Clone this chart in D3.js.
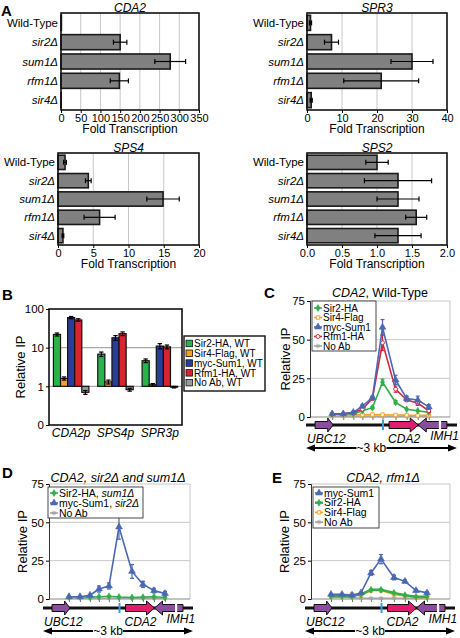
<!DOCTYPE html>
<html><head><meta charset="utf-8">
<script src="https://cdn.jsdelivr.net/npm/d3@7"></script>
<style>
body{margin:0;background:#fff;}
svg{display:block;}
</style></head><body>
<svg id="fig" width="460" height="638"></svg>
<script>
// ---------------- DATA ----------------
const strainsA = ["Wild-Type","sir2Δ","sum1Δ","rfm1Δ","sir4Δ"];
const cda2Fold = [1,150,277,148,0.5];
const cda2Err  = [0,17,39,23,0];
const cda2Ticks = [0,50,100,150,200,250,300,350];
const spr3Fold = [1,7,30,21.2,1.2];
const spr3Err  = [0.3,2,6,10.7,0.3];
const spr3Ticks = [0,10,20,30,40];
const sps4Fold = [1,4.3,14.9,5.9,0.7];
const sps4Err  = [0.2,0.4,2.3,2.2,0.12];
const sps4Ticks = [0,5,10,15,20];
const sps2Fold = [1.0,1.3,1.3,1.56,1.3];
const sps2Err  = [0.16,0.48,0.3,0.15,0.33];
const sps2Ticks = [0,0.5,1.0,1.5,2.0];

const promotersB = ["CDA2p","SPS4p","SPR3p"];
const seriesB = ["Sir2-HA, WT","Sir4-Flag, WT","myc-Sum1, WT","Rfm1-HA, WT","No Ab, WT"];
const sir2IP_B = [22,6.8,4.6];     const sir2Err_B = [2,0.9,0.5];
const sir4IP_B = [1.6,1.3,1.1];    const sir4Err_B = [0.15,0.15,0.08];
const sum1IP_B = [60,18,11];       const sum1Err_B = [4,2.5,1.7];
const rfm1IP_B = [52,23,10.5];     const rfm1Err_B = [4,2.5,1.2];
const noAbIP_B = [0.7,0.82,0.95];  const noAbErr_B = [0.08,0.07,0.04];
const ticksB = [0.1,1,10,100];
const tickLabelsB = ["0","1","10","100"];

// ChIP tiling (bp along ~3 kb locus)
const probePos = [520,740,940,1120,1320,1520,1780,2000,2220,2440];
const locusSpan = [0,3000];
const featNames  = ["UBC12","CDA2","IMH1"];
const featStart  = [180,1650,2230];
const featEnd    = [540,2230,2800];
const featStrand = [1,1,-1];
const sum1Site = 1530;
const imh1Break = 2660;
const ticksChip = [0,25,50,75];

// Panel C: wild type
const sir2C = [2,2,2,4,6,22.5,9.5,5,4,3];
const sir2CErr = [0.3,0.3,0.3,0.5,0.8,2,1,0.5,0.5,0.5];
const sir4C = [1.5,1.3,1.2,1.5,1.6,1.5,1.3,1.2,1.0,1.2];
const sir4CErr = [0.2,0.2,0.2,0.2,0.2,0.2,0.2,0.2,0.2,0.2];
const sum1C = [2,2,3,7,12.5,58,24,12,11,6.5];
const sum1CErr = [0.3,0.3,0.4,1,1,5,3,1.5,2.5,1.5];
const rfm1C = [2,2,3,5,12,48,18,11,9,4];
const rfm1CErr = [0.3,0.3,0.3,0.5,1,5,2,1,1.5,1];
const noAbC = [0.5,0.5,0.5,0.5,0.5,0.5,0.5,0.5,0.5,0.5];
const noAbCErr = [0.1,0.1,0.1,0.1,0.1,0.1,0.1,0.1,0.1,0.1];

// Panel D: sir2Δ and sum1Δ
const sir2D = [1.5,1.5,1.2,1.5,1.8,1.3,1.0,1.2,1.5,1.0];
const sir2DErr = [0.2,0.2,0.2,0.2,0.2,0.2,0.2,0.2,0.2,0.2];
const sum1D = [1.5,1.5,2.5,6.5,8.5,47,18,9.5,5.5,3.5];
const sum1DErr = [0.5,0.3,0.5,2,2,8,4.5,2,1.5,1.5];
const noAbD = [0.5,0.5,0.5,0.5,0.5,0.5,0.5,0.5,0.5,0.5];
const noAbDErr = [0.1,0.1,0.1,0.1,0.1,0.1,0.1,0.1,0.1,0.1];

// Panel E: rfm1Δ
const sum1E = [3,3,2.5,4,17,26,14,11.5,5.5,4];
const sum1EErr = [0.5,0.5,0.5,0.5,1.5,3,1.5,1,0.8,0.8];
const sir2E = [2,2,2,3,6,6,4,2.5,1.5,1.5];
const sir2EErr = [0.2,0.2,0.2,0.3,0.5,0.5,0.3,0.2,0.2,0.2];
const sir4E = [2,2,3,2.5,5.5,5.5,3,2,1,1];
const sir4EErr = [0.2,0.2,0.3,0.3,0.5,0.5,0.3,0.2,0.2,0.2];
const noAbE = [1,1,0.8,0.5,0.5,0.5,0.5,0.5,0.5,0.5];
const noAbEErr = [0.1,0.1,0.1,0.1,0.1,0.1,0.1,0.1,0.1,0.1];

// ---------------- DRAWING ----------------
const FONT = '"Liberation Sans", Arial, Helvetica, sans-serif';
const svg = d3.select("#fig").attr("font-family", FONT);

function letter(t,x,y){
  svg.append("text").attr("x",x).attr("y",y).attr("font-size",15)
     .attr("font-weight","bold").attr("fill","#000").text(t);
}
function styleAxis(ax, fs){
  ax.attr("font-family",FONT).attr("font-size",fs);
  ax.selectAll("text").attr("fill","#000");
  ax.selectAll(".tick line").attr("stroke","#000");
}

// Panel A horizontal bar charts
function hbar(cfg){
  const {title,left,right,top,bottom,values,errs,ticks,fmt} = cfg;
  const g = svg.append("g");
  const x = d3.scaleLinear().domain([ticks[0],ticks[ticks.length-1]]).range([left,right]);
  const y = d3.scaleBand().domain(strainsA).range([top,bottom]).paddingInner(0.22).paddingOuter(0.12);
  g.selectAll("line.grid").data(ticks.slice(1,-1)).join("line")
    .attr("x1",d=>x(d)).attr("x2",d=>x(d)).attr("y1",top).attr("y2",bottom)
    .attr("stroke","#c8c8c8").attr("stroke-width",1);
  g.selectAll("rect.bar").data(values).join("rect")
    .attr("x",x(0)).attr("y",(d,i)=>y(strainsA[i]))
    .attr("width",d=>x(d)-x(0)).attr("height",y.bandwidth())
    .attr("fill","#808080").attr("stroke","#1a1a1a").attr("stroke-width",1.6);
  const eg = g.append("g").attr("stroke","#000").attr("stroke-width",1.2);
  values.forEach((v,i)=>{
    const e = errs[i]; if(!e) return;
    const cy = y(strainsA[i]) + y.bandwidth()/2;
    eg.append("line").attr("x1",x(v-e)).attr("x2",x(v+e)).attr("y1",cy).attr("y2",cy);
    [v-e,v+e].forEach(xx=>eg.append("line").attr("x1",x(xx)).attr("x2",x(xx)).attr("y1",cy-2.5).attr("y2",cy+2.5));
  });
  g.append("rect").attr("x",left).attr("y",top).attr("width",right-left).attr("height",bottom-top)
    .attr("fill","none").attr("stroke","#111").attr("stroke-width",1.6);
  const ax = g.append("g").attr("transform",`translate(0,${bottom})`)
    .call(d3.axisBottom(x).tickValues(ticks).tickSize(3).tickPadding(1).tickFormat(fmt||d3.format("d")));
  ax.select(".domain").remove();
  styleAxis(ax,11);
  g.selectAll("text.cat").data(strainsA).join("text")
    .attr("x",left-3).attr("y",d=>y(d)+y.bandwidth()/2).attr("dy","0.36em")
    .attr("text-anchor","end").attr("font-size",11.5)
    .attr("font-style",(d,i)=>i>0?"italic":"normal").text(d=>d);
  g.append("text").attr("x",(left+right)/2).attr("y",top-1.5).attr("text-anchor","middle")
    .attr("font-size",12).attr("font-style","italic").text(title);
  g.append("text").attr("x",(left+right)/2).attr("y",bottom+23).attr("text-anchor","middle")
    .attr("font-size",12).text("Fold Transcription");
}

letter("A",1,16);
hbar({title:"CDA2",left:61,right:199,top:13,bottom:110,values:cda2Fold,errs:cda2Err,ticks:cda2Ticks});
hbar({title:"SPR3",left:307,right:447,top:13,bottom:110,values:spr3Fold,errs:spr3Err,ticks:spr3Ticks});
hbar({title:"SPS4",left:58,right:199,top:153,bottom:245,values:sps4Fold,errs:sps4Err,ticks:sps4Ticks});
hbar({title:"SPS2",left:307,right:447,top:153,bottom:245,values:sps2Fold,errs:sps2Err,ticks:sps2Ticks,fmt:d3.format(".1f")});

// Panel B
(function(){
  letter("B",2,300);
  const left=49,right=182,top=309,bottom=425;
  const colors = ["#2bb34b","#f5a21b","#2b3d9c","#d9232f","#9a9a9a"];
  const vals = [sir2IP_B,sir4IP_B,sum1IP_B,rfm1IP_B,noAbIP_B];
  const errs = [sir2Err_B,sir4Err_B,sum1Err_B,rfm1Err_B,noAbErr_B];
  const y = d3.scaleLog().domain([0.1,100]).range([bottom,top]);
  const x0 = d3.scaleBand().domain(promotersB).range([left,right]).paddingInner(0.2).paddingOuter(0.1);
  const x1 = d3.scaleBand().domain(seriesB).range([0,x0.bandwidth()]);
  const g = svg.append("g");
  [1,10].forEach(v=>g.append("line").attr("x1",left).attr("x2",right).attr("y1",y(v)).attr("y2",y(v))
     .attr("stroke","#a8a8a8").attr("stroke-width",1.3));
  promotersB.forEach((p,pi)=>{
    seriesB.forEach((s,si)=>{
      const v = vals[si][pi], e = errs[si][pi];
      const bx = x0(p)+x1(s), bw = x1.bandwidth();
      g.append("rect").attr("x",bx).attr("width",bw)
        .attr("y",Math.min(y(v),y(1))).attr("height",Math.abs(y(v)-y(1)))
        .attr("fill",colors[si]).attr("stroke","#111").attr("stroke-width",1.2);
      const cx = bx+bw/2;
      g.append("line").attr("x1",cx).attr("x2",cx).attr("y1",y(v-e)).attr("y2",y(v+e)).attr("stroke","#000").attr("stroke-width",1.2);
      [y(v-e),y(v+e)].forEach(yy=>g.append("line").attr("x1",cx-2.2).attr("x2",cx+2.2).attr("y1",yy).attr("y2",yy).attr("stroke","#000").attr("stroke-width",1.2));
    });
  });
  g.append("rect").attr("x",left).attr("y",top).attr("width",right-left).attr("height",bottom-top)
    .attr("fill","none").attr("stroke","#111").attr("stroke-width",1.6);
  const ay = g.append("g").attr("transform",`translate(${left},0)`)
    .call(d3.axisLeft(y).tickValues(ticksB).tickSize(3).tickPadding(2).tickFormat((d,i)=>tickLabelsB[i]));
  ay.select(".domain").remove();
  styleAxis(ay,11.5);
  g.selectAll("text.grp").data(promotersB).join("text")
    .attr("x",d=>x0(d)+x0.bandwidth()/2).attr("y",bottom+12).attr("text-anchor","middle")
    .attr("font-size",12).attr("font-style","italic").text(d=>d);
  g.append("text").attr("transform",`translate(25,${(top+bottom)/2}) rotate(-90)`)
    .attr("text-anchor","middle").attr("font-size",13).text("Relative IP");
  // legend
  const lx=184, ly=336, lw=81, lh=55, step=9.8;
  g.append("rect").attr("x",lx).attr("y",ly).attr("width",lw).attr("height",lh)
    .attr("fill","#fff").attr("stroke","#111").attr("stroke-width",1.4);
  seriesB.forEach((s,i)=>{
    const cy = ly+7.5+i*step;
    g.append("rect").attr("x",lx+2).attr("y",cy-3.3).attr("width",6.5).attr("height",6.5)
      .attr("fill",colors[i]).attr("stroke","#111").attr("stroke-width",0.8);
    g.append("text").attr("x",lx+10).attr("y",cy).attr("dy","0.36em").attr("font-size",10).text(s);
  });
})();

// ChIP tiling panels
const SYM = {
  diamond: d3.symbol().type(d3.symbolDiamond).size(14),
  square:  d3.symbol().type(d3.symbolSquare).size(12),
  triangle:d3.symbol().type(d3.symbolTriangle).size(20),
  circle:  d3.symbol().type(d3.symbolCircle).size(12),
  asterisk:d3.symbol().type(d3.symbolAsterisk).size(16)
};
function marker(g, kind, color, x, y){
  const p = g.append("path").attr("d",SYM[kind]()).attr("transform",`translate(${x},${y})`);
  if(kind==="diamond"||kind==="triangle") p.attr("fill",color).attr("stroke",color).attr("stroke-width",0.6);
  else if(kind==="asterisk") p.attr("fill","none").attr("stroke",color).attr("stroke-width",1);
  else p.attr("fill","#fff").attr("stroke",color).attr("stroke-width",1);
}
function geneArrow(g,x0,x1,strand,yc,color){
  const bh=7, hh=14, hl=Math.min(8,(x1-x0)*0.3);
  let pts;
  if(strand>0) pts=[[x0,yc-bh/2],[x1-hl,yc-bh/2],[x1-hl,yc-hh/2],[x1,yc],[x1-hl,yc+hh/2],[x1-hl,yc+bh/2],[x0,yc+bh/2]];
  else pts=[[x1,yc-bh/2],[x0+hl,yc-bh/2],[x0+hl,yc-hh/2],[x0,yc],[x0+hl,yc+hh/2],[x0+hl,yc+bh/2],[x1,yc+bh/2]];
  g.append("polygon").attr("points",pts.map(p=>p.join(",")).join(" "))
    .attr("fill",color).attr("stroke","#111").attr("stroke-width",1);
}
function chip(cfg){
  const g = svg.append("g");
  const x = d3.scaleLinear().domain(locusSpan).range([cfg.gx0,cfg.gx1]);
  const y = d3.scaleLinear().domain([0,75]).range([cfg.y0,cfg.y75]);
  [25,50,75].forEach(v=>g.append("line").attr("x1",cfg.ax).attr("x2",cfg.right)
    .attr("y1",y(v)).attr("y2",y(v)).attr("stroke","#c8c8c8").attr("stroke-width",1));
  g.append("line").attr("x1",cfg.right).attr("x2",cfg.right).attr("y1",y(75)).attr("y2",y(0))
    .attr("stroke","#c8c8c8").attr("stroke-width",1);
  const axb = g.append("g").attr("transform",`translate(0,${y(0)})`)
    .call(d3.axisBottom(x).tickValues(probePos).tickSize(3).tickFormat(""));
  axb.select(".domain").remove();
  axb.selectAll(".tick line").attr("stroke","#777");
  g.append("line").attr("x1",cfg.ax).attr("x2",cfg.right).attr("y1",y(0)).attr("y2",y(0))
    .attr("stroke","#888").attr("stroke-width",1);
  const ay = g.append("g").attr("transform",`translate(${cfg.ax},0)`)
    .call(d3.axisLeft(y).tickValues(ticksChip).tickSize(3).tickPadding(2));
  ay.select(".domain").attr("stroke","#333");
  styleAxis(ay,11.5);
  g.append("text").attr("transform",`translate(${cfg.ax-cfg.ylab},${(y(0)+y(75))/2}) rotate(-90)`)
    .attr("text-anchor","middle").attr("font-size",13).text("Relative IP");
  // title
  const t = g.append("text").attr("x",cfg.tx).attr("y",cfg.ty).attr("text-anchor","middle").attr("font-size",12.5);
  cfg.title.forEach(s=>t.append("tspan").attr("font-style",s[1]?"italic":"normal").text(s[0]));
  // series
  const line = d3.line().x((d,i)=>x(probePos[i])).y(d=>y(d));
  cfg.series.forEach(s=>{
    g.append("path").attr("d",line(s.v)).attr("fill","none").attr("stroke",s.c).attr("stroke-width",s.w||1.6);
    s.v.forEach((v,i)=>{
      const cx=x(probePos[i]), e=s.e[i];
      if(e>0.6){
        g.append("line").attr("x1",cx).attr("x2",cx).attr("y1",y(v-e)).attr("y2",y(v+e)).attr("stroke",s.c).attr("stroke-width",1.2);
        [v-e,v+e].forEach(vv=>g.append("line").attr("x1",cx-2).attr("x2",cx+2).attr("y1",y(vv)).attr("y2",y(vv)).attr("stroke",s.c).attr("stroke-width",1.2));
      }
      marker(g,s.m,s.c,cx,y(v));
    });
  });
  // legend
  const L = cfg.legend;
  g.append("rect").attr("x",L.x).attr("y",L.y).attr("width",L.w).attr("height",L.h)
    .attr("fill","#fff").attr("stroke","#333").attr("stroke-width",0.9);
  L.order.forEach((idx,k)=>{
    const s = cfg.series[idx];
    const cy = L.y+L.first+k*L.step;
    g.append("line").attr("x1",L.x+2).attr("x2",L.x+10).attr("y1",cy).attr("y2",cy).attr("stroke",s.c).attr("stroke-width",s.w||1.6);
    marker(g,s.m,s.c,L.x+6,cy);
    const tx = g.append("text").attr("x",L.x+11).attr("y",cy).attr("dy","0.36em").attr("font-size",L.fs);
    s.label.forEach(p=>tx.append("tspan").attr("font-style",p[1]?"italic":"normal").text(p[0]));
  });
  // gene map
  const gy = cfg.gy;
  g.append("line").attr("x1",cfg.gx0).attr("x2",cfg.gx1).attr("y1",gy).attr("y2",gy).attr("stroke","#111").attr("stroke-width",3);
  const featColors = ["#8b4e9d","#e01f6c","#8b4e9d"];
  featNames.forEach((n,i)=>geneArrow(g,x(featStart[i]),x(featEnd[i]),featStrand[i],gy,featColors[i]));
  g.append("rect").attr("x",x(imh1Break)-1).attr("y",gy-4).attr("width",2.2).attr("height",8).attr("fill","#fff");
  g.append("line").attr("x1",x(sum1Site)).attr("x2",x(sum1Site)).attr("y1",gy-5).attr("y2",gy+5)
    .attr("stroke","#38a0d8").attr("stroke-width",2);
  const labX = [x(featStart[0])-8, x(featStart[1])-1, x(featStart[2])+12];
  const labY = [gy+18, gy+18, gy+15];
  featNames.forEach((n,i)=>g.append("text").attr("x",labX[i]).attr("y",labY[i]).attr("font-size",12)
    .attr("font-style","italic").text(n));
  // ~3 kb scale arrow
  const ay2 = gy+23;
  g.append("line").attr("x1",cfg.gx0+5).attr("x2",cfg.gx1-5).attr("y1",ay2).attr("y2",ay2).attr("stroke","#000").attr("stroke-width",1.8);
  g.append("polygon").attr("points",`${cfg.gx0},${ay2} ${cfg.gx0+9},${ay2-3.5} ${cfg.gx0+9},${ay2+3.5}`).attr("fill","#000");
  g.append("polygon").attr("points",`${cfg.gx1},${ay2} ${cfg.gx1-9},${ay2-3.5} ${cfg.gx1-9},${ay2+3.5}`).attr("fill","#000");
  const kbx = x(1300);
  g.append("rect").attr("x",kbx-15).attr("y",ay2-5).attr("width",30).attr("height",10).attr("fill","#fff");
  g.append("text").attr("x",kbx).attr("y",ay2).attr("dy","0.36em").attr("text-anchor","middle").attr("font-size",12).text("~3 kb");
}

const COL = {green:"#2fae4a", orange:"#f3a32a", blue:"#4a68b2", red:"#d3293d", gray:"#a3a3a3"};

letter("C",264,298);
chip({ax:310,right:450,y0:417,y75:301,gx0:306,gx1:457,gy:425,ylab:20,tx:380,ty:297,
  title:[["CDA2",true],[", Wild-Type",false]],
  series:[
    {v:noAbC,e:noAbCErr,c:COL.gray,m:"asterisk",label:[["No Ab",false]]},
    {v:sir4C,e:sir4CErr,c:COL.orange,m:"square",label:[["Sir4-Flag",false]]},
    {v:sir2C,e:sir2CErr,c:COL.green,m:"diamond",label:[["Sir2-HA",false]]},
    {v:rfm1C,e:rfm1CErr,c:COL.red,m:"circle",label:[["Rfm1-HA",false]]},
    {v:sum1C,e:sum1CErr,c:COL.blue,m:"triangle",label:[["myc-Sum1",false]]}
  ],
  legend:{x:312,y:301,w:64,h:50,first:7,step:9.5,fs:10,order:[2,1,4,3,0]}
});

letter("D",2,478);
chip({ax:49,right:190,y0:599,y75:484,gx0:43,gx1:193,gy:608,ylab:22,tx:118,ty:482,
  title:[["CDA2, sir2Δ and sum1Δ",true]],
  series:[
    {v:noAbD,e:noAbDErr,c:COL.gray,m:"asterisk",label:[["No Ab",false]]},
    {v:sir2D,e:sir2DErr,c:COL.green,m:"diamond",label:[["Sir2-HA, ",false],["sum1Δ",true]]},
    {v:sum1D,e:sum1DErr,c:COL.blue,m:"triangle",label:[["myc-Sum1, ",false],["sir2Δ",true]]}
  ],
  legend:{x:48,y:487,w:95,h:31,first:6,step:10,fs:10.5,order:[1,2,0]}
});

letter("E",272,483);
chip({ax:311,right:450,y0:599,y75:484,gx0:305,gx1:455,gy:608,ylab:22,tx:383,ty:482,
  title:[["CDA2, rfm1Δ",true]],
  series:[
    {v:noAbE,e:noAbEErr,c:COL.gray,m:"asterisk",label:[["No Ab",false]]},
    {v:sir4E,e:sir4EErr,c:COL.orange,m:"square",label:[["Sir4-Flag",false]]},
    {v:sir2E,e:sir2EErr,c:COL.green,m:"diamond",w:2.4,label:[["Sir2-HA",false]]},
    {v:sum1E,e:sum1EErr,c:COL.blue,m:"triangle",label:[["myc-Sum1",false]]}
  ],
  legend:{x:313,y:487,w:66,h:41,first:6,step:9.7,fs:10.5,order:[3,2,1,0]}
});
</script>
</body></html>
